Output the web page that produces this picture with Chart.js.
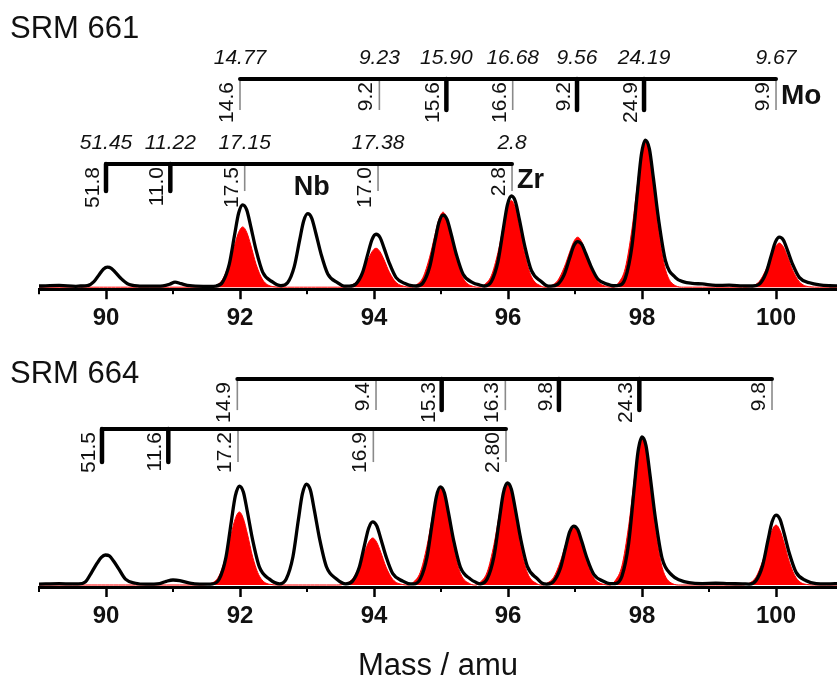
<!DOCTYPE html>
<html><head><meta charset="utf-8">
<script src="https://cdn.jsdelivr.net/npm/chart.js@4.4.1/dist/chart.umd.min.js"></script>
<style>
html,body{margin:0;padding:0;background:#fff;overflow:hidden;width:837px;height:680px;}
canvas{position:absolute;left:0;}
#c1{top:0}
#c2{top:340px}
</style></head><body>
<canvas id="c1" width="837" height="340"></canvas>
<canvas id="c2" width="837" height="346"></canvas>
<script>
// ---------- axis ticks ----------
const tickValues = [89, 90, 91, 92, 93, 94, 95, 96, 97, 98, 99, 100];
const labelledTicks = [90, 92, 94, 96, 98, 100];
const minorTicks = [89, 91, 93, 95, 97, 99];

// ---------- SRM 661 spectrum ----------
const massTop = [89.00, 89.30, 89.55,
 89.62, 89.72, 89.82, 89.90, 89.96, 90.02, 90.08, 90.14, 90.22, 90.32, 90.47,
 90.65, 90.85, 90.95, 91.03, 91.12, 91.25, 91.45,
 91.64, 91.74, 91.84, 91.92, 91.98, 92.04, 92.10, 92.16, 92.24, 92.34, 92.49,
 92.61, 92.71, 92.81, 92.89, 92.95, 93.01, 93.07, 93.13, 93.21, 93.31, 93.46,
 93.55,
 93.63, 93.73, 93.83, 93.91, 93.97, 94.03, 94.09, 94.15, 94.23, 94.33, 94.48,
 94.56,
 94.63, 94.73, 94.83, 94.91, 94.97, 95.03, 95.09, 95.15, 95.23, 95.33, 95.48,
 95.57,
 95.65, 95.75, 95.85, 95.93, 95.99, 96.05, 96.11, 96.17, 96.25, 96.35, 96.50,
 96.57,
 96.64, 96.74, 96.84, 96.92, 96.98, 97.04, 97.10, 97.16, 97.24, 97.34, 97.49,
 97.57,
 97.65, 97.75, 97.85, 97.93, 97.99, 98.05, 98.11, 98.17, 98.25, 98.35, 98.50,
 98.62, 98.75, 98.90, 99.10, 99.30, 99.50,
 99.65, 99.75, 99.85, 99.93, 99.99, 100.05, 100.11, 100.17, 100.25, 100.35, 100.50,
 100.65, 100.80, 100.95];
const measuredTop = [0.8, 1.2, 0.6,
 0.8, 1.0, 3.8, 8.7, 12.2, 13.6, 12.8, 10.1, 6.1, 2.4, 0.9,
 0.7, 0.9, 2.0, 3.5, 2.4, 1.0, 0.6,
 0.8, 3.4, 15.7, 35.8, 50.4, 56.0, 52.6, 41.4, 25.2, 10.1, 3.4,
 1.0, 3.0, 14.0, 32.0, 45.0, 50.0, 47.0, 37.0, 22.5, 9.0, 3.0,
 0.8,
 0.7, 2.2, 10.1, 23.0, 32.4, 36.0, 33.8, 26.6, 16.2, 6.5, 2.2,
 1.0,
 0.8, 2.9, 13.7, 31.4, 44.1, 49.0, 46.1, 36.3, 22.1, 8.8, 2.9,
 1.6,
 0.8, 3.7, 17.4, 39.7, 55.8, 62.0, 58.3, 45.9, 27.9, 11.2, 3.7,
 1.2,
 0.7, 1.9, 8.7, 19.8, 27.9, 31.0, 29.1, 22.9, 14.0, 5.6, 1.9,
 1.0,
 1.2, 6.0, 28.0, 64.0, 90.0, 100.0, 94.0, 74.0, 45.0, 18.0, 6.5,
 3.6, 2.6, 2.2, 1.2, 1.4, 0.9,
 0.8, 2.0, 9.5, 21.8, 30.6, 34.0, 32.0, 25.2, 15.3, 6.5, 3.0,
 1.5, 1.0, 0.9];
const simulatedTop = [0, 0, 0,
 0, 0, 0, 0, 0, 0, 0, 0, 0, 0, 0,
 0, 0, 0, 0, 0, 0, 0,
 1.2, 5.3, 16.4, 28.7, 37.3, 41.0, 37.3, 28.7, 15.6, 4.9, 0.4,
 0, 0, 0, 0, 0, 0, 0, 0, 0, 0, 0,
 0,
 0.8, 3.4, 10.6, 18.6, 24.1, 26.5, 24.1, 18.6, 10.1, 3.2, 0.3,
 0,
 1.5, 6.6, 20.4, 35.7, 46.4, 51.0, 46.4, 35.7, 19.4, 6.1, 0.5,
 0,
 1.8, 7.7, 23.6, 41.3, 53.7, 59.0, 53.7, 41.3, 22.4, 7.1, 0.6,
 0,
 1.0, 4.4, 13.6, 23.8, 30.9, 34.0, 30.9, 23.8, 12.9, 4.1, 0.3,
 0,
 3.0, 12.9, 39.6, 69.3, 90.1, 99.0, 90.1, 69.3, 37.6, 11.9, 1.0,
 0, 0, 0, 0, 0, 0,
 0.9, 3.9, 12.0, 21.0, 27.3, 30.0, 27.3, 21.0, 11.4, 3.6, 0.3,
 0, 0, 0];

// ---------- SRM 664 spectrum ----------
const massBottom = [89.00, 89.30, 89.50,
 89.59, 89.69, 89.79, 89.87, 89.93, 89.99, 90.05, 90.11, 90.19, 90.29, 90.44,
 90.60, 90.80, 90.90, 91.00, 91.10, 91.25, 91.40,
 91.59, 91.69, 91.79, 91.87, 91.93, 91.99, 92.05, 92.11, 92.19, 92.29, 92.44,
 92.59, 92.69, 92.79, 92.87, 92.93, 92.99, 93.05, 93.11, 93.19, 93.29, 93.44,
 93.58, 93.68, 93.78, 93.86, 93.92, 93.98, 94.04, 94.10, 94.18, 94.28, 94.43,
 94.51,
 94.59, 94.69, 94.79, 94.87, 94.93, 94.99, 95.05, 95.11, 95.19, 95.29, 95.44,
 95.52,
 95.59, 95.69, 95.79, 95.87, 95.93, 95.99, 96.05, 96.11, 96.19, 96.29, 96.44,
 96.51,
 96.58, 96.68, 96.78, 96.86, 96.92, 96.98, 97.04, 97.10, 97.18, 97.28, 97.43,
 97.52,
 97.60, 97.70, 97.80, 97.88, 97.94, 98.00, 98.06, 98.12, 98.20, 98.30, 98.45,
 98.57, 98.70, 98.90, 99.10, 99.30, 99.50,
 99.60, 99.70, 99.80, 99.88, 99.94, 100.00, 100.06, 100.12, 100.20, 100.30, 100.45,
 100.60, 100.75, 100.95];
const measuredBottom = [0.6, 0.9, 0.7,
 0.7, 2.0, 9.0, 15.0, 18.8, 20.4, 19.8, 16.5, 11.0, 4.0, 1.2,
 0.6, 1.0, 2.5, 3.4, 3.0, 1.2, 0.6,
 0.8, 4.0, 18.8, 43.1, 60.6, 67.3, 63.3, 49.8, 30.3, 12.1, 4.0,
 0.8, 4.1, 19.2, 44.0, 61.8, 68.7, 64.6, 50.8, 30.9, 12.4, 4.1,
 0.8, 2.6, 12.0, 27.5, 38.6, 42.9, 40.3, 31.7, 19.3, 7.7, 2.6,
 1.0,
 0.7, 4.0, 18.7, 42.7, 60.0, 66.7, 62.7, 49.4, 30.0, 12.0, 4.0,
 1.8,
 0.8, 4.2, 19.4, 44.4, 62.5, 69.4, 65.2, 51.4, 31.2, 12.5, 4.2,
 1.2,
 0.6, 2.4, 11.2, 25.7, 36.1, 40.1, 37.7, 29.7, 18.0, 7.2, 2.4,
 1.0,
 1.0, 6.0, 28.2, 64.4, 90.6, 100.7, 94.7, 74.5, 45.3, 18.1, 6.5,
 3.2, 1.6, 1.0, 1.2, 0.9, 0.8,
 0.6, 2.9, 13.3, 30.5, 42.8, 47.6, 44.7, 35.2, 21.4, 8.6, 2.9,
 1.0, 0.8, 1.0];
const simulatedBottom = [0, 0, 0,
 0, 0, 0, 0, 0, 0, 0, 0, 0, 0, 0,
 0, 0, 0, 0, 0, 0, 0,
 1.5, 6.5, 19.9, 34.8, 45.2, 49.7, 45.2, 34.8, 18.9, 6.0, 0.5,
 0, 0, 0, 0, 0, 0, 0, 0, 0, 0, 0,
 1.0, 4.2, 12.8, 22.4, 29.1, 32.0, 29.1, 22.4, 12.2, 3.8, 0.3,
 0,
 2.0, 8.6, 26.4, 46.2, 60.1, 66.0, 60.1, 46.2, 25.1, 7.9, 0.7,
 0,
 2.1, 8.9, 27.5, 48.1, 62.5, 68.7, 62.5, 48.1, 26.1, 8.2, 0.7,
 0,
 1.2, 5.1, 15.8, 27.7, 35.9, 39.5, 35.9, 27.7, 15.0, 4.7, 0.4,
 0,
 3.0, 13.0, 40.0, 70.0, 91.0, 100.0, 91.0, 70.0, 38.0, 12.0, 1.0,
 0, 0, 0, 0, 0, 0,
 1.2, 5.3, 16.3, 28.6, 37.1, 40.8, 37.1, 28.6, 15.5, 4.9, 0.4,
 0, 0, 0];

// ---------- isotope stick patterns ----------
const moMassTop = [92.0, 94.08, 95.08, 96.07, 97.03, 98.03, 100.0];
const moMeasTop = ['14.6', '9.2', '15.6', '16.6', '9.2', '24.9', '9.9'];
const moRefTop = ['14.77', '9.23', '15.90', '16.68', '9.56', '24.19', '9.67'];
const moMarkedTop = [0, 0, 1, 0, 1, 1, 0];
const zrMassTop = [90.0, 90.96, 92.07, 94.06, 96.06];
const zrMeasTop = ['51.8', '11.0', '17.5', '17.0', '2.8'];
const zrRefTop = ['51.45', '11.22', '17.15', '17.38', '2.8'];
const zrMarkedTop = [1, 1, 0, 0, 0];

const moMassBottom = [91.96, 94.03, 95.01, 95.96, 96.76, 97.96, 99.94];
const moMeasBottom = ['14.9', '9.4', '15.3', '16.3', '9.8', '24.3', '9.8'];
const moMarkedBottom = [0, 0, 1, 0, 1, 1, 0];
const zrMassBottom = [89.94, 90.93, 91.97, 93.99, 95.97];
const zrMeasBottom = ['51.5', '11.6', '17.2', '16.9', '2.80'];
const zrMarkedBottom = [1, 1, 0, 0, 0];

const FONT = "'Liberation Sans', Arial, Helvetica, sans-serif";

function pts(m, v) { return m.map((x, i) => ({ x: x, y: v[i] })); }

function makeAnnot(spec) {
  return {
    id: 'annot' + spec.title.replace(/\s/g, ''),
    afterDraw(chart) {
      const ctx = chart.ctx, xs = chart.scales.x, ys = chart.scales.y;
      ctx.save();
      // minor axis ticks
      const ay = xs.top;
      ctx.strokeStyle = '#000'; ctx.lineWidth = 2;
      minorTicks.forEach(v => {
        const px = xs.getPixelForValue(v);
        ctx.beginPath(); ctx.moveTo(px, ay); ctx.lineTo(px, ay + 5); ctx.stroke();
      });
      // panel title
      ctx.fillStyle = '#111';
      ctx.font = '31px ' + FONT; ctx.textAlign = 'left'; ctx.textBaseline = 'alphabetic';
      ctx.fillText(spec.title, 10, spec.titleY);
      spec.groups.forEach(g => {
        const by = ys.getPixelForValue(g.level);
        const px = g.masses.map(m => xs.getPixelForValue(m));
        // ticks
        px.forEach((x, i) => {
          ctx.beginPath();
          if (g.marked[i]) { ctx.strokeStyle = '#000'; ctx.lineWidth = 4.5; ctx.lineCap = 'round'; }
          else { ctx.strokeStyle = '#8a8a8a'; ctx.lineWidth = 1.6; ctx.lineCap = 'butt'; }
          ctx.moveTo(x, by); ctx.lineTo(x, by + g.tickLen); ctx.stroke();
        });
        // horizontal bar
        ctx.beginPath(); ctx.strokeStyle = '#000'; ctx.lineWidth = 4; ctx.lineCap = 'round';
        ctx.moveTo(px[0], by); ctx.lineTo(px[px.length - 1], by); ctx.stroke();
        // rotated measured values
        ctx.fillStyle = '#111'; ctx.font = '21px ' + FONT;
        px.forEach((x, i) => {
          ctx.save();
          ctx.translate(x - 7, by + 3);
          ctx.rotate(-Math.PI / 2);
          ctx.textAlign = 'right'; ctx.textBaseline = 'alphabetic';
          ctx.fillText(g.meas[i], 0, 0);
          ctx.restore();
        });
        // italic reference values
        if (g.ref) {
          ctx.font = 'italic 21px ' + FONT; ctx.textAlign = 'center'; ctx.textBaseline = 'alphabetic';
          px.forEach((x, i) => ctx.fillText(g.ref[i], x, by - 15));
        }
        if (g.name) {
          ctx.font = 'bold ' + g.nameSize + 'px ' + FONT; ctx.textAlign = 'left'; ctx.textBaseline = 'middle';
          ctx.fillText(g.name, px[px.length - 1] + 5, by + g.nameDy);
        }
      });
      (spec.free || []).forEach(f => {
        ctx.font = 'bold 27px ' + FONT; ctx.textAlign = 'center'; ctx.textBaseline = 'middle';
        ctx.fillText(f.text, xs.getPixelForValue(f.x), ys.getPixelForValue(f.y));
      });
      ctx.restore();
    }
  };
}

function makeChart(id, masses, measured, simulated, yMax, withTitle, spec, padBottom) {
  const xScale = {
    type: 'linear', min: 89, max: 100.91,
    afterBuildTicks: s => { s.ticks = tickValues.map(v => ({ value: v })); },
    grid: {
      display: true, drawOnChartArea: false, drawTicks: true, tickLength: 10, tickWidth: 2.5,
      tickColor: c => (c.tick && labelledTicks.includes(c.tick.value)) ? '#000' : 'rgba(0,0,0,0)'
    },
    border: { display: true, color: '#000', width: 3 },
    ticks: {
      autoSkip: false, maxRotation: 0, minRotation: 0, padding: 5, color: '#111',
      font: { family: FONT, size: 24, weight: 'bold' },
      callback: v => labelledTicks.includes(v) ? String(v) : ''
    },
    title: withTitle ? {
      display: true, text: 'Mass / amu', color: '#111',
      font: { family: FONT, size: 31 }, padding: { top: 12, bottom: 1 }
    } : { display: false }
  };
  return new Chart(document.getElementById(id), {
    type: 'line',
    data: {
      datasets: [
        { label: 'measured', data: pts(masses, measured), borderColor: '#000', borderWidth: 3.3,
          pointRadius: 0, fill: false, cubicInterpolationMode: 'monotone', order: 0 },
        { label: 'simulated', data: pts(masses, simulated), borderColor: '#ff0000', backgroundColor: '#ff0000',
          borderWidth: 1, pointRadius: 0, fill: 'origin', cubicInterpolationMode: 'monotone', order: 1 }
      ]
    },
    options: {
      responsive: false, animation: false, devicePixelRatio: 1,
      layout: { padding: { left: 39, right: 0, top: 0, bottom: padBottom } },
      plugins: { legend: { display: false }, tooltip: { enabled: false }, title: { display: false } },
      scales: { x: xScale, y: { type: 'linear', display: false, min: -1.36, max: yMax } }
    },
    plugins: [makeAnnot(spec)]
  });
}

makeChart('c1', massTop, measuredTop, simulatedTop, 195.2, false, {
  title: 'SRM 661', titleY: 38,
  groups: [
    { masses: moMassTop, meas: moMeasTop, ref: moRefTop, marked: moMarkedTop, level: 141.5, tickLen: 31,
      name: 'Mo', nameSize: 28, nameDy: 17 },
    { masses: zrMassTop, meas: zrMeasTop, ref: zrRefTop, marked: zrMarkedTop, level: 83.7, tickLen: 27,
      name: 'Zr', nameSize: 27, nameDy: 16 }
  ],
  free: [{ text: 'Nb', x: 93.07, y: 68 }]
}, 2);

makeChart('c2', massBottom, measuredBottom, simulatedBottom, 166.7, true, {
  title: 'SRM 664', titleY: 43,
  groups: [
    { masses: moMassBottom, meas: moMeasBottom, marked: moMarkedBottom, level: 140.1, tickLen: 31 },
    { masses: zrMassBottom, meas: zrMeasBottom, marked: zrMarkedBottom, level: 106.1, tickLen: 33 }
  ]
}, 0);
</script>
</body></html>
